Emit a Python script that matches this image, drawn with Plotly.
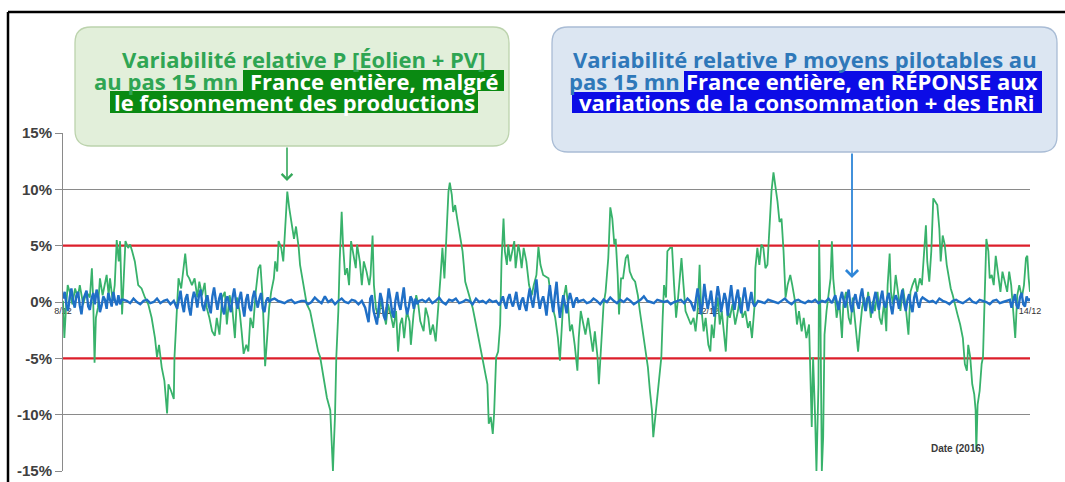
import plotly.graph_objects as go

# ---------------- data ----------------
x_range_h = [0, 144]                     # hours since 8/12/2016 00:00
x_tickvals = [0, 48, 96, 144]
x_ticktext = ["8/12", "10/12", "12/12", "14/12"]
y_tickvals = [-15, -10, -5, 0, 5, 10, 15]
y_ticktext = ["-15%", "-10%", "-5%", "0%", "5%", "10%", "15%"]
limit_levels = [5, -5]

# Wind + PV relative variability (%) (time in hours)
green_t = [0.0, 0.2, 0.45, 0.7, 1.0, 1.4, 1.8, 2.2, 2.5, 3.0, 3.5, 4.0, 4.3, 4.5, 4.7, 4.9, 5.2, 5.5, 5.9, 6.3,
           6.5, 6.8, 7.0, 7.4, 7.7, 8.0, 8.3, 8.5, 8.8, 9.0, 9.3, 9.7, 10.0, 10.3, 10.7, 11.2, 11.7, 12.2, 12.7, 13.2,
           13.7, 14.0, 14.3, 14.7, 15.1, 15.5, 15.7, 16.1, 16.5, 16.6, 16.9, 17.2, 17.6, 18.0, 18.2, 18.5, 18.8, 19.2, 19.6, 20.0,
           20.3, 20.7, 21.1, 21.4, 21.8, 22.2, 22.6, 22.9, 23.3, 23.7, 24.1, 24.4, 24.8, 25.2, 25.6, 25.9, 26.3, 26.6, 26.9, 27.3,
           27.6, 27.9, 28.3, 28.7, 29.1, 29.4, 29.7, 29.9, 30.1, 30.4, 30.7, 31.0, 31.4, 31.6, 31.9, 32.1, 32.5, 32.8, 33.1, 33.4,
           33.7, 34.1, 34.4, 34.7, 35.1,
           35.3, 35.8, 36.3, 36.8, 37.3, 37.8, 38.0, 38.3, 38.5, 38.8, 39.3, 39.8, 40.0, 40.2, 40.3, 40.5, 40.7, 41.0, 41.2, 41.5,
           41.7, 42.0, 42.3, 42.6, 42.9, 43.2, 43.6, 43.8, 44.2, 44.5, 44.8, 45.2, 45.6, 45.8, 46.1, 46.3, 46.6, 47.0, 47.3, 47.7,
           48.1, 48.4, 48.8, 49.2, 49.6, 49.9, 50.2, 50.5, 50.8, 51.2, 51.6, 51.8, 52.2, 52.6, 52.9, 53.2, 53.7, 54.0, 54.4, 54.7,
           55.1, 55.5, 55.8, 56.0, 56.2, 56.5, 56.8, 57.1, 57.4, 57.6, 57.9, 58.1, 58.4, 58.7, 59.1, 59.5, 59.9, 60.2, 60.6, 61.0,
           61.3, 61.7, 62.1, 62.5, 62.8, 63.2, 63.4, 63.7, 64.0, 64.2, 64.5, 64.8, 65.1, 65.3, 65.6, 65.8, 66.1, 66.3, 66.6, 66.9,
           67.2, 67.4, 67.8, 68.0, 68.3, 68.6, 69.0, 69.4, 69.8, 70.1, 70.5, 70.8, 71.1, 71.5,
           72.3, 72.8, 73.3, 73.7, 74.0, 74.3, 74.5, 74.9, 75.2, 75.5, 75.8, 76.2, 76.6, 76.8, 77.1, 77.5, 77.8, 78.2, 78.6, 78.9,
           79.2, 79.6, 79.8, 80.1, 80.5, 80.8, 81.2, 81.5, 81.8, 82.1, 82.3, 82.6, 82.8, 83.1, 83.4, 83.8, 84.1, 84.4, 84.8, 85.2,
           85.6, 85.9, 86.3, 86.7, 87.1, 87.4, 87.7, 87.9, 88.2, 88.5, 88.8, 89.1, 89.3, 89.5, 89.8, 90.0, 90.4, 90.7, 91.0, 91.3,
           91.6, 91.9, 92.1, 92.4, 92.7, 93.1, 93.5, 93.9, 94.2, 94.5, 94.8, 95.0, 95.4, 95.7, 96.1, 96.4, 96.6, 96.9, 97.2, 97.5,
           97.8, 98.1, 98.4, 98.7, 99.0, 99.3, 99.7, 100.1, 100.5, 100.8, 101.2, 101.6, 102.0, 102.3, 102.6, 103.0, 103.1, 103.4, 103.7, 104.0,
           104.3, 104.6, 104.9, 105.3, 105.5, 105.8, 106.1, 106.4, 106.7, 107.0, 107.3, 107.6, 107.9, 108.3, 108.6, 109.0,
           109.3, 109.6, 110.0, 110.3, 110.7, 111.1, 111.5, 111.7, 112.0, 112.2, 112.5, 112.6, 112.8, 113.0, 113.2, 113.4, 113.7, 114.0, 114.3, 114.5,
           114.7, 115.0, 115.2, 115.6, 116.0, 116.2, 116.6, 117.0, 117.3, 117.6, 117.9, 118.2, 118.4, 118.7, 119.0, 119.3, 119.6, 119.9, 120.3, 120.6,
           120.9, 121.3, 121.6, 121.9, 122.3, 122.6, 122.8, 123.1, 123.3, 123.6, 124.0, 124.4, 124.7, 125.1, 125.5, 125.9, 126.2, 126.5, 126.9, 127.2,
           127.6, 127.9, 128.2, 128.5, 128.7, 129.0, 129.3, 129.6, 129.9, 130.2, 130.5, 130.7, 131.0, 131.3, 131.6, 131.9, 132.2, 132.5, 132.8, 133.2,
           133.6, 134.0, 134.3, 134.6, 134.8, 135.1, 135.4, 135.7, 135.9, 136.0, 136.2, 136.5, 136.8, 137.0, 137.3, 137.5, 137.8, 138.0, 138.3, 138.6,
           138.9, 139.3, 139.6, 139.9, 140.3, 140.6, 140.9, 141.2, 141.5, 141.8, 142.1, 142.4, 142.8, 143.1, 143.4, 143.6, 143.8, 144.0]
green_v = [0.1, -3.2, -0.5, 1.5, 0.9, -0.2, 1.2, 0.4, 1.5, -0.2, 0.9, 0.4, 3.0, 0.1, -5.4, -1.4, -0.5, 2.1, 0.6, 1.8,
           2.4, 0.6, 2.1, 0.1, 1.5, 5.5, 3.6, 5.4, -1.1, 1.5, 5.4, 4.8, 5.1, 4.5, 3.6, 1.5, 1.2, 0.4, -0.2, -1.4,
           -3.2, -4.9, -3.8, -5.8, -7.0, -9.9, -7.3, -7.9, -8.6, -4.9, -1.4, 2.1, 1.2, 3.6, 4.3, 2.4, 2.1, 1.5, 2.1, 0.4,
           1.8, 0.6, 1.7, -0.5, -1.4, -2.6, -3.0, -1.4, -2.9, 0.4, 0.9, -2.0, 0.6, -0.5, -3.2, 0.4, -0.8, -2.6, -4.6, -3.8,
           -4.4, -1.4, -2.3, 0.9, 3.0, 3.3, 0.6, -2.3, -5.7, -3.2, -0.5, 0.9, 2.1, 3.6, 2.7, 5.4, 4.8, 3.6, 7.4, 9.8,
           8.3, 6.5, 5.6, 6.7, 4.8,
           3.3, 1.5, -0.2, -0.8, -2.3, -3.5, -4.4, -4.9, -5.5, -6.7, -8.5, -9.6, -12.3, -15.0, -13.2, -10.2, -4.9, -0.8, 3.6, 8.0,
           5.1, 2.4, 3.0, 1.5, 5.4, 4.5, 3.0, 5.1, 3.6, 1.5, 3.6, 2.7, 1.5, 2.4, 5.9, 1.5, -0.5, -1.4, 0.1, -0.8,
           -2.0, -0.2, -1.1, -2.3, -0.8, -4.4, -2.0, -1.4, -3.2, -0.8, -1.7, -3.8, -1.1, 0.6, -0.2, -1.7, -2.6, -0.5, -1.4, -2.9,
           -2.0, -3.5, -1.4, 0.4, 2.1, 4.8, 2.1, 5.9, 9.8, 10.6, 9.5, 8.0, 8.6, 7.4, 5.9, 4.5, 1.8, 1.2, 0.4, -0.5,
           -1.4, -2.6, -3.8, -4.9, -5.8, -7.3, -10.8, -10.2, -11.7, -9.9, -4.9, -4.4, -2.0, 3.6, 7.4, 4.5, 3.3, 5.1, 3.6, 4.5,
           5.4, 3.0, 5.1, 4.5, 3.0, 4.8, 3.6, 1.5, 0.6, 1.5, 2.4, 4.9, 3.3, 2.4,
           2.1, -0.2, -1.4, -3.2, -5.2, -2.0, 0.1, 1.5, -0.2, -2.6, -2.0, -3.8, -6.1, -3.2, -0.8, -2.0, -2.9, -1.4, -3.2, -4.4,
           -2.6, -4.9, -7.3, -3.8, -0.2, 0.9, 3.9, 8.4, 7.4, 5.1, 5.6, 2.4, -1.1, 2.1, 2.1, 3.9, 4.2, 2.7, 2.1, 1.8,
           0.6, -0.8, -2.6, -4.4, -5.8, -7.9, -9.6, -12.0, -10.2, -7.9, -6.7, -4.9, -1.4, 1.5, 0.4, 4.5, 4.8, 4.8, 1.5, -1.4,
           0.4, 2.7, 3.9, 1.5, -0.8, -1.4, -2.0, -1.4, -2.6, -0.8, 3.3, -0.2, -2.6, -1.4, -3.8, -4.4, -2.0, -3.2, -0.8, 0.4,
           -2.0, -0.8, -2.6, -4.4, -0.8, -1.4, -0.2, -2.0, -0.8, 0.4, -1.4, -0.8, -2.3, -1.7, -3.2, -0.2, 3.0, 4.8, 3.3, 5.1,
           4.8, 3.0, 3.3, 7.4, 9.8, 11.5, 10.4, 8.9, 7.1, 7.4, 4.5, 0.4, 1.5, 2.4, 1.5, 0.1,
           -2.0, -0.8, -2.6, -1.4, -3.2, -2.0, -11.1, -4.9, -10.2, -15.0, -7.3, 5.5, -1.4, -15.0, -12.0, -2.9, -0.8, 0.9, 2.1, 5.4,
           2.1, 0.1, -1.4, 0.1, -3.2, -0.2, 0.9, -1.4, -2.0, 0.4, -1.4, -2.6, -4.4, -2.3, -0.5, 0.4, -0.8, 0.9, -1.4, 0.1,
           -0.8, 0.9, -1.4, -2.0, 0.1, -2.6, 1.5, 4.3, 0.9, -0.2, 2.4, 0.6, -0.8, 1.2, -0.5, -2.9, 0.9, 1.5, 2.1, 0.9,
           2.1, 1.5, 4.5, 6.8, 3.6, 1.8, 4.5, 9.2, 8.9, 8.6, 6.5, 3.6, 5.9, 5.1, 3.3, 2.1, 1.2, 0.6, -0.2, -1.1,
           -2.0, -3.2, -5.5, -6.1, -3.8, -4.9, -7.3, -8.2, -9.6, -13.2, -9.1, -7.9, -5.5, -4.9, 1.5, 5.6, 4.5, 2.1, 2.4, 1.5,
           4.1, 2.1, 0.9, 2.7, 1.5, 0.9, 2.7, 1.5, -0.8, -3.2, 0.6, 1.5, 0.4, 1.5, 3.9, 4.1, 2.1, 0.9]

# Dispatchable means relative variability (%): segments (start hour, sampling step in hours, values)
blue_seg_start = [0.0, 9.0, 17.0, 31.0, 36.0, 45.0, 53.5, 65.0, 72.0, 77.0, 94.0, 103.5, 115.0, 128.5, 141.25]
blue_seg_step = [0.25, 0.5, 0.25, 0.5, 0.5, 0.25, 0.5, 0.25, 0.25, 0.5, 0.25, 0.5, 0.25, 0.5, 0.25]
blue_seg_values = [
    [0.3, 0.9, -0.2, -0.8, 0.4, 1.2, 0.1, -0.5, 0.6, 0.9, -0.3, -1.1, 0.2, 0.6, 1.0, -0.4, -0.7, 0.3,
     0.8, -0.2, 1.1, 0.4, -0.9, -0.3, 0.5, 0.2, -0.6, 0.8, 0.3, -0.4, 0.9, 0.1, -0.3, 0.6, -0.2, 0.2],
    [0.2, 0.1, -0.1, 0.3, 0.0, -0.2, 0.1, 0.2, -0.1, 0.0, 0.3, -0.1, 0.1, 0.2, -0.2, 0.1],
    [-0.6, 0.4, 1.0, -0.2, -0.9, 0.3, 0.7, -0.5, -1.2, 0.2, 0.9, 0.4, -0.5, 0.6, 1.1, -0.3,
     -0.8, 0.1, 0.6, -0.4, -1.0, 0.5, 1.3, 0.2, -0.7, 0.3, 0.8, -0.6, -1.1, 0.2, 0.5, -0.3,
     -0.9, 0.4, 1.2, 0.1, -0.6, 0.3, 0.9, -0.4, -1.3, 0.2, 0.7, -0.5, -0.8, 0.4, 1.0, 0.2,
     -0.5, 0.3, 0.8, -0.6, -0.9, 0.1, 0.4, 0.0],
    [0.2, 0.3, 0.1, 0.0, -0.1, 0.1, 0.2, -0.1, 0.0, 0.1],
    [0.1, -0.2, 0.0, 0.4, 0.1, -0.1, 0.5, 0.0, 0.2, -0.2, 0.1, 0.3, 0.0, -0.1, 0.2, 0.1, -0.2, 0.1],
    [-0.5, -1.2, -1.8, 0.3, 0.6, -0.8, -1.5, -2.0, -0.6, 0.8, 0.2, -1.2, -1.6, -0.4, 1.2, 0.3,
     -0.9, -1.4, 0.1, 0.9, -0.2, -0.7, 0.5, 1.3, -0.3, -1.1, -0.4, 0.5, 0.2, -0.6, 0.3, -0.2, 0.1],
    [0.2, 0.0, 0.3, -0.1, 0.1, 0.4, 0.0, -0.2, 0.2, 0.1, 0.3, -0.1, 0.0, 0.2, 0.1, -0.2, 0.3, 0.0, 0.1, -0.1,
     0.2, 0.0, 0.1],
    [-0.3, 0.2, 0.5, -0.1, -0.6, 0.3, 0.7, 0.0, -0.4, 0.2, 0.9, -0.2, -0.7, 0.1, 0.4, -0.3,
     -0.8, 0.3, 1.2, 0.2, -0.5, 0.6, 2.0, 0.4, -0.6, 0.1, 0.5, -0.2],
    [-1.2, 0.3, 1.5, 0.2, -0.9, 0.6, 1.8, -0.1, -1.4, -0.3, 0.6, -0.2, -1.0, 0.1, 0.8, 0.2, -0.5, 0.1, 0.4, 0.0],
    [0.1, 0.2, -0.1, 0.0, 0.3, 0.1, -0.2, 0.2, 0.0, 0.4, 0.1, -0.1, 0.2, 0.0, 0.3, 0.1, -0.2, 0.0, 0.2, 0.5,
     0.1, 0.0, -0.1, 0.2, 0.1, 0.0, 0.1, -0.2, 0.0, 0.1, 0.2, -0.1, 0.3, 0.0],
    [-0.8, 0.2, 1.2, 0.3, -1.1, -0.2, 1.6, 0.4, -0.6, 0.1, 1.0, -0.3, -1.3, 0.2, 1.4, 0.5,
     -0.9, -0.1, 0.8, 0.2, -1.2, 0.3, 1.5, 0.1, -0.7, 0.4, 1.1, -0.2, -1.0, 0.3, 1.3, 0.2,
     -0.8, 0.1, 0.9, -0.1, -0.4],
    [0.1, 0.0, -0.1, 0.2, 0.1, 0.0, -0.1, 0.1, 0.3, 0.0, -0.2, 0.1, 0.2, 0.0, -0.1, 0.1, 0.0, 0.2, -0.1, 0.1,
     0.0, 0.3, -0.1],
    [0.6, -0.1, -0.7, 0.3, 0.9, 0.1, -0.5, 0.4, 1.1, -0.2, -0.9, 0.2, 0.7, -0.1, -0.6, 0.5,
     1.2, 0.0, -0.8, 0.3, 0.5, -0.4, -1.0, 0.2, 0.9, 0.1, -0.7, 0.3, 1.0, -0.2, -0.5, 0.4,
     0.8, -0.3, -1.1, 0.1, 0.6, 0.2, -0.6, 0.3, 1.1, -0.1, -0.8, 0.2, 0.7, -0.3, -0.9, 0.4,
     0.9, 0.0, -0.5, 0.2, 0.4],
    [0.2, 0.0, 0.1, -0.1, 0.3, 0.1, 0.0, -0.2, 0.1, 0.2, 0.0, -0.1, 0.1, 0.3, 0.0, -0.1, 0.2, 0.1, 0.0, -0.2,
     0.1, 0.2, -0.1, 0.0, 0.1, 0.2],
    [-0.5, 0.2, 0.7, -0.3, -0.6, 0.4, 0.8, -0.2, -0.4, 0.5, 0.1, 0.3],
]
blue_t, blue_v = [], []
for s0, st, vals in zip(blue_seg_start, blue_seg_step, blue_seg_values):
    for i, v in enumerate(vals):
        blue_t.append(s0 + i * st)
        blue_v.append(v)

green_title = ["Variabilité relative P [Éolien + PV]", "au pas 15 mn", "France entière, malgré",
               "le foisonnement des productions"]
blue_title = ["Variabilité relative P moyens pilotables au", "pas 15 mn", "France entière, en RÉPONSE aux",
              "variations de la consommation + des EnRi"]

# ---------------- geometry helpers (screen pixel -> paper) ----------------
W, H = 1065, 482
L, R, T, B = 63, 35, 133, 11
PW, PH = W - L - R, H - T - B


def xp(px):
    return (px - L) / PW


def yp(py):
    return (H - B - py) / PH


def rrect(x0, y0, x1, y1, r):
    pts = [("M", x0 + r, y0), ("L", x1 - r, y0), ("Q", x1, y0, x1, y0 + r), ("L", x1, y1 - r),
           ("Q", x1, y1, x1 - r, y1), ("L", x0 + r, y1), ("Q", x0, y1, x0, y1 - r), ("L", x0, y0 + r),
           ("Q", x0, y0, x0 + r, y0)]
    s = ""
    for p in pts:
        coords = p[1:]
        parts = [f"{xp(coords[i]):.5f},{yp(coords[i + 1]):.5f}" for i in range(0, len(coords), 2)]
        s += p[0] + " ".join(parts) + " "
    return s + "Z"


GREEN_LINE = "#38b26b"
BLUE_LINE = "#1f6fc6"
GREEN_TXT = "#2fa553"
BLUE_TXT = "#2f78b9"
GREEN_HL = "#0a8a12"
BLUE_HL = "#0c0ce6"
GRID = "#8a8a8a"
RED = "#dc1f2b"

fig = go.Figure()
for lv in limit_levels:
    fig.add_trace(go.Scatter(x=x_range_h, y=[lv, lv], mode="lines", line=dict(color=RED, width=2.4),
                             hoverinfo="skip"))
fig.add_trace(go.Scatter(x=green_t, y=green_v, mode="lines",
                         line=dict(color=GREEN_LINE, width=1.8), hoverinfo="skip"))
fig.add_trace(go.Scatter(x=blue_t, y=blue_v, mode="lines",
                         line=dict(color=BLUE_LINE, width=2.4), hoverinfo="skip"))

shapes = []
# outer frame (top + left)
shapes.append(dict(type="line", xref="paper", yref="paper", x0=xp(8), x1=xp(W + 5), y0=yp(12), y1=yp(12),
                   line=dict(color="black", width=2.5), layer="above"))
shapes.append(dict(type="line", xref="paper", yref="paper", x0=xp(8), x1=xp(8), y0=yp(12), y1=yp(H + 5),
                   line=dict(color="black", width=2.5), layer="above"))
# callout boxes
shapes.append(dict(type="path", xref="paper", yref="paper", path=rrect(75, 27, 509, 146, 16),
                   fillcolor="#e2efda", line=dict(color="#bcd3ad", width=1.3), layer="above"))
shapes.append(dict(type="path", xref="paper", yref="paper", path=rrect(552, 27, 1057, 152, 16),
                   fillcolor="#dce6f2", line=dict(color="#a9bcd5", width=1.3), layer="above"))
# text highlights
for (x0, y0, x1, y1, c) in [(243, 70, 504, 91, GREEN_HL), (110, 91, 478, 113, GREEN_HL),
                            (684, 71, 1042, 92, BLUE_HL), (572, 92, 1042, 113, BLUE_HL)]:
    shapes.append(dict(type="rect", xref="paper", yref="paper", x0=xp(x0), x1=xp(x1), y0=yp(y1), y1=yp(y0),
                       fillcolor=c, line=dict(width=0), layer="above"))

ann = []
TFONT = "Open Sans, Lato, sans-serif"
TS = 22


def txt(text, color, x, cy, anchor="left"):
    return dict(text=f"<b>{text}</b>", x=xp(x), y=yp(cy), xref="paper", yref="paper", xanchor=anchor,
                yanchor="middle", showarrow=False, font=dict(family=TFONT, size=TS, color=color))


ann.append(txt(green_title[0], GREEN_TXT, 303, 59, "center"))
ann.append(txt(green_title[1], GREEN_TXT, 92, 81, "left"))
ann.append(txt(green_title[2], "white", 501, 81, "right"))
ann.append(txt(green_title[3], "white", 294, 102, "center"))
ann.append(txt(blue_title[0], BLUE_TXT, 805, 59, "center"))
ann.append(txt(blue_title[1], BLUE_TXT, 682, 81, "right"))
ann.append(txt(blue_title[2], "white", 1040, 81, "right"))
ann.append(txt(blue_title[3], "white", 807, 102, "center"))
# arrows
ann.append(dict(text="", x=xp(287), y=yp(181), xref="paper", yref="paper", ax=0, ay=-(181 - 146),
                showarrow=True, arrowhead=4, arrowsize=1.3, arrowwidth=1.6, arrowcolor="#34a85a"))
ann.append(dict(text="", x=xp(852), y=yp(278), xref="paper", yref="paper", ax=0, ay=-(278 - 152),
                showarrow=True, arrowhead=4, arrowsize=1.3, arrowwidth=1.8, arrowcolor="#2e86d8"))
ann.append(dict(text="<b>Date (2016)</b>", x=xp(986), y=yp(456), xref="paper", yref="paper",
                showarrow=False, font=dict(family="Liberation Sans, Arial", size=10, color="#3a3a3a")))

fig.update_layout(
    width=W, height=H,
    margin=dict(l=L, r=R, t=T, b=B, pad=0),
    paper_bgcolor="white", plot_bgcolor="white",
    showlegend=False,
    shapes=shapes, annotations=ann,
    xaxis=dict(range=x_range_h, tickmode="array", tickvals=x_tickvals, ticktext=x_ticktext, showgrid=False,
               zeroline=False, showline=True, linecolor=GRID, linewidth=1, anchor="free", position=yp(302),
               ticks="", tickfont=dict(family="Liberation Sans, Arial", size=9, color="#333333"),
               layer="below traces", automargin=False),
    yaxis=dict(range=[-15, 15], tickmode="array", tickvals=y_tickvals, ticktext=y_ticktext, showgrid=True,
               gridcolor=GRID, gridwidth=1, zeroline=False, showline=True, linecolor=GRID, linewidth=1,
               ticks="outside", ticklen=7, tickcolor=GRID,
               tickfont=dict(family="Liberation Sans, Arial", size=15, color="#404040", weight="bold"),
               layer="below traces", automargin=False),
)

fig.write_html("out.html", config={"displayModeBar": False},
               post_script="document.body.style.margin='0px';")
